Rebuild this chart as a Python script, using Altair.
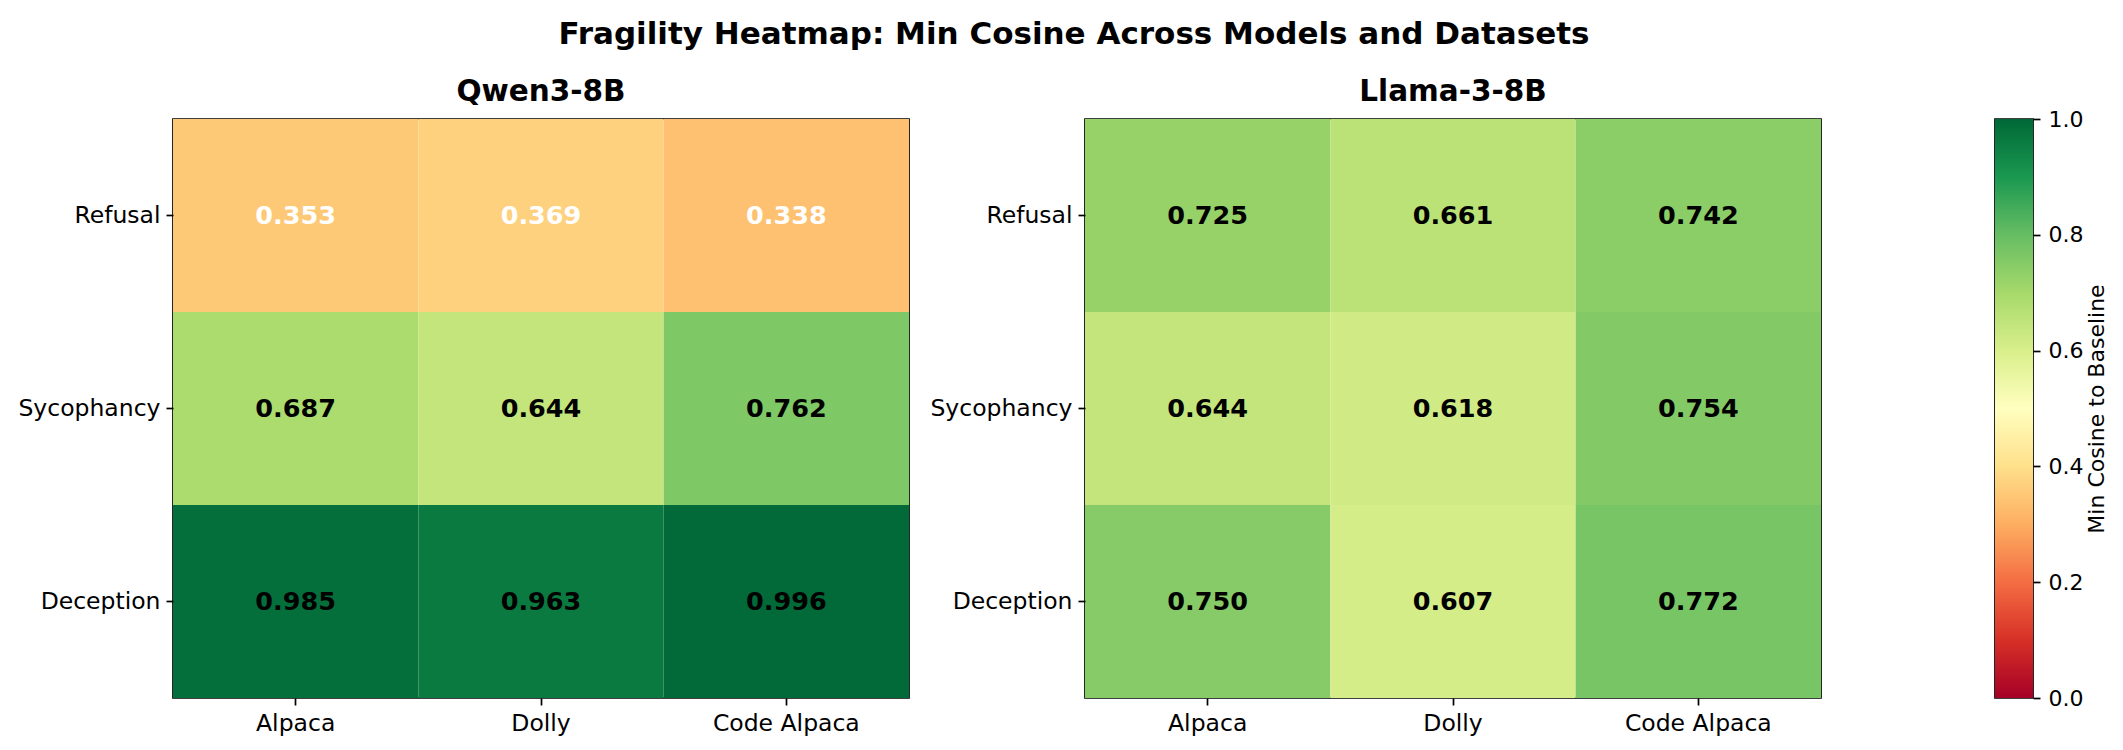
import altair as alt
import pandas as pd

DATASETS = ["Alpaca", "Dolly", "Code Alpaca"]
BEHAVIORS = ["Refusal", "Sycophancy", "Deception"]

# min cosine to baseline, rows = behaviors, columns = datasets
QWEN = [
    [0.353, 0.369, 0.338],
    [0.687, 0.644, 0.762],
    [0.985, 0.963, 0.996],
]
LLAMA = [
    [0.725, 0.661, 0.742],
    [0.644, 0.618, 0.754],
    [0.750, 0.607, 0.772],
]

COLORBAR_TICKS = [0.0, 0.2, 0.4, 0.6, 0.8, 1.0]
COLORBAR_ENDS = [{"lo": 0.0, "hi": 1.0}]

# matplotlib RdYlGn, piecewise linear over 11 stops
RDYLGN = [
    "#a50026", "#d73027", "#f46d43", "#fdae61", "#fee08b", "#ffffbf",
    "#d9ef8b", "#a6d96a", "#66bd63", "#1a9850", "#006837",
]
RDYLGN_STOPS = [0.0, 0.1, 0.2, 0.3, 0.4, 0.5, 0.6, 0.7, 0.8, 0.9, 1.0]

FONT = "DejaVu Sans"
SCALE = alt.Scale(domain=RDYLGN_STOPS, range=RDYLGN, interpolate="rgb")
PANEL_H = 579


def long_table(grid):
    rows = []
    for behavior, row in zip(BEHAVIORS, grid):
        for dataset, value in zip(DATASETS, row):
            rows.append({"behavior": behavior, "dataset": dataset, "value": value})
    return pd.DataFrame(rows)


def axis(**kwargs):
    return alt.Axis(
        labelColor="black",
        tickSize=7,
        tickWidth=1.7,
        tickColor="black",
        domain=False,
        grid=False,
        labelAngle=0,
        **kwargs,
    )


def panel_title(text):
    return alt.TitleParams(text, fontSize=29.5, fontWeight="bold", offset=12)


def heatmap(grid, name):
    band_axis = dict(labelFontSize=23.5, labelPadding=6, bandPosition=0.5)
    base = alt.Chart(long_table(grid)).encode(
        x=alt.X("dataset:N", sort=DATASETS, title=None, axis=axis(**band_axis)),
        y=alt.Y("behavior:N", sort=BEHAVIORS, title=None, axis=axis(**band_axis)),
    )
    cells = base.mark_rect().encode(
        color=alt.Color("value:Q", scale=SCALE, legend=None),
    )
    labels = base.mark_text(fontSize=25.5, fontWeight="bold", baseline="middle").encode(
        text=alt.Text("value:Q", format=".3f"),
        color=alt.condition("datum.value < 0.4", alt.value("white"), alt.value("black")),
    )
    return alt.layer(cells, labels).properties(
        width=736, height=PANEL_H, title=panel_title(name)
    )


gradient = {
    "gradient": "linear",
    "x1": 0, "y1": 1, "x2": 0, "y2": 0,
    "stops": [{"offset": s, "color": c} for s, c in zip(RDYLGN_STOPS, RDYLGN)],
}

colorbar = (
    alt.Chart(pd.DataFrame(COLORBAR_ENDS))
    .mark_rect(fill=gradient)
    .encode(
        y=alt.Y(
            "lo:Q",
            scale=alt.Scale(domain=[0, 1], nice=False, zero=False),
            axis=axis(
                orient="right",
                values=COLORBAR_TICKS,
                format=".1f",
                labelFontSize=22,
                labelPadding=8,
                labelFlush=False,
                title="Min Cosine to Baseline",
                titleFontSize=22,
                titleFontWeight="normal",
                titleColor="black",
                titleAngle=270,
                titleBaseline="top",
                titlePadding=4,
            ),
        ),
        y2="hi:Q",
    )
    .properties(width=38, height=PANEL_H, title=panel_title(" "))
)

left = heatmap(QWEN, "Qwen3-8B")
right = heatmap(LLAMA, "Llama-3-8B")

chart = (
    alt.hconcat(alt.hconcat(left, right, spacing=19), colorbar, spacing=172)
    .properties(
        title=alt.TitleParams(
            "Fragility Heatmap: Min Cosine Across Models and Datasets",
            fontSize=31,
            fontWeight="bold",
            anchor="middle",
            dx=11,
            offset=14,
        ),
        padding={"left": 9, "top": 10, "right": 5, "bottom": 5},
    )
    .configure(font=FONT)
    .configure_view(stroke="black", strokeWidth=1.7)
)

chart.save("out.html", embed_options={"renderer": "svg", "actions": False})
